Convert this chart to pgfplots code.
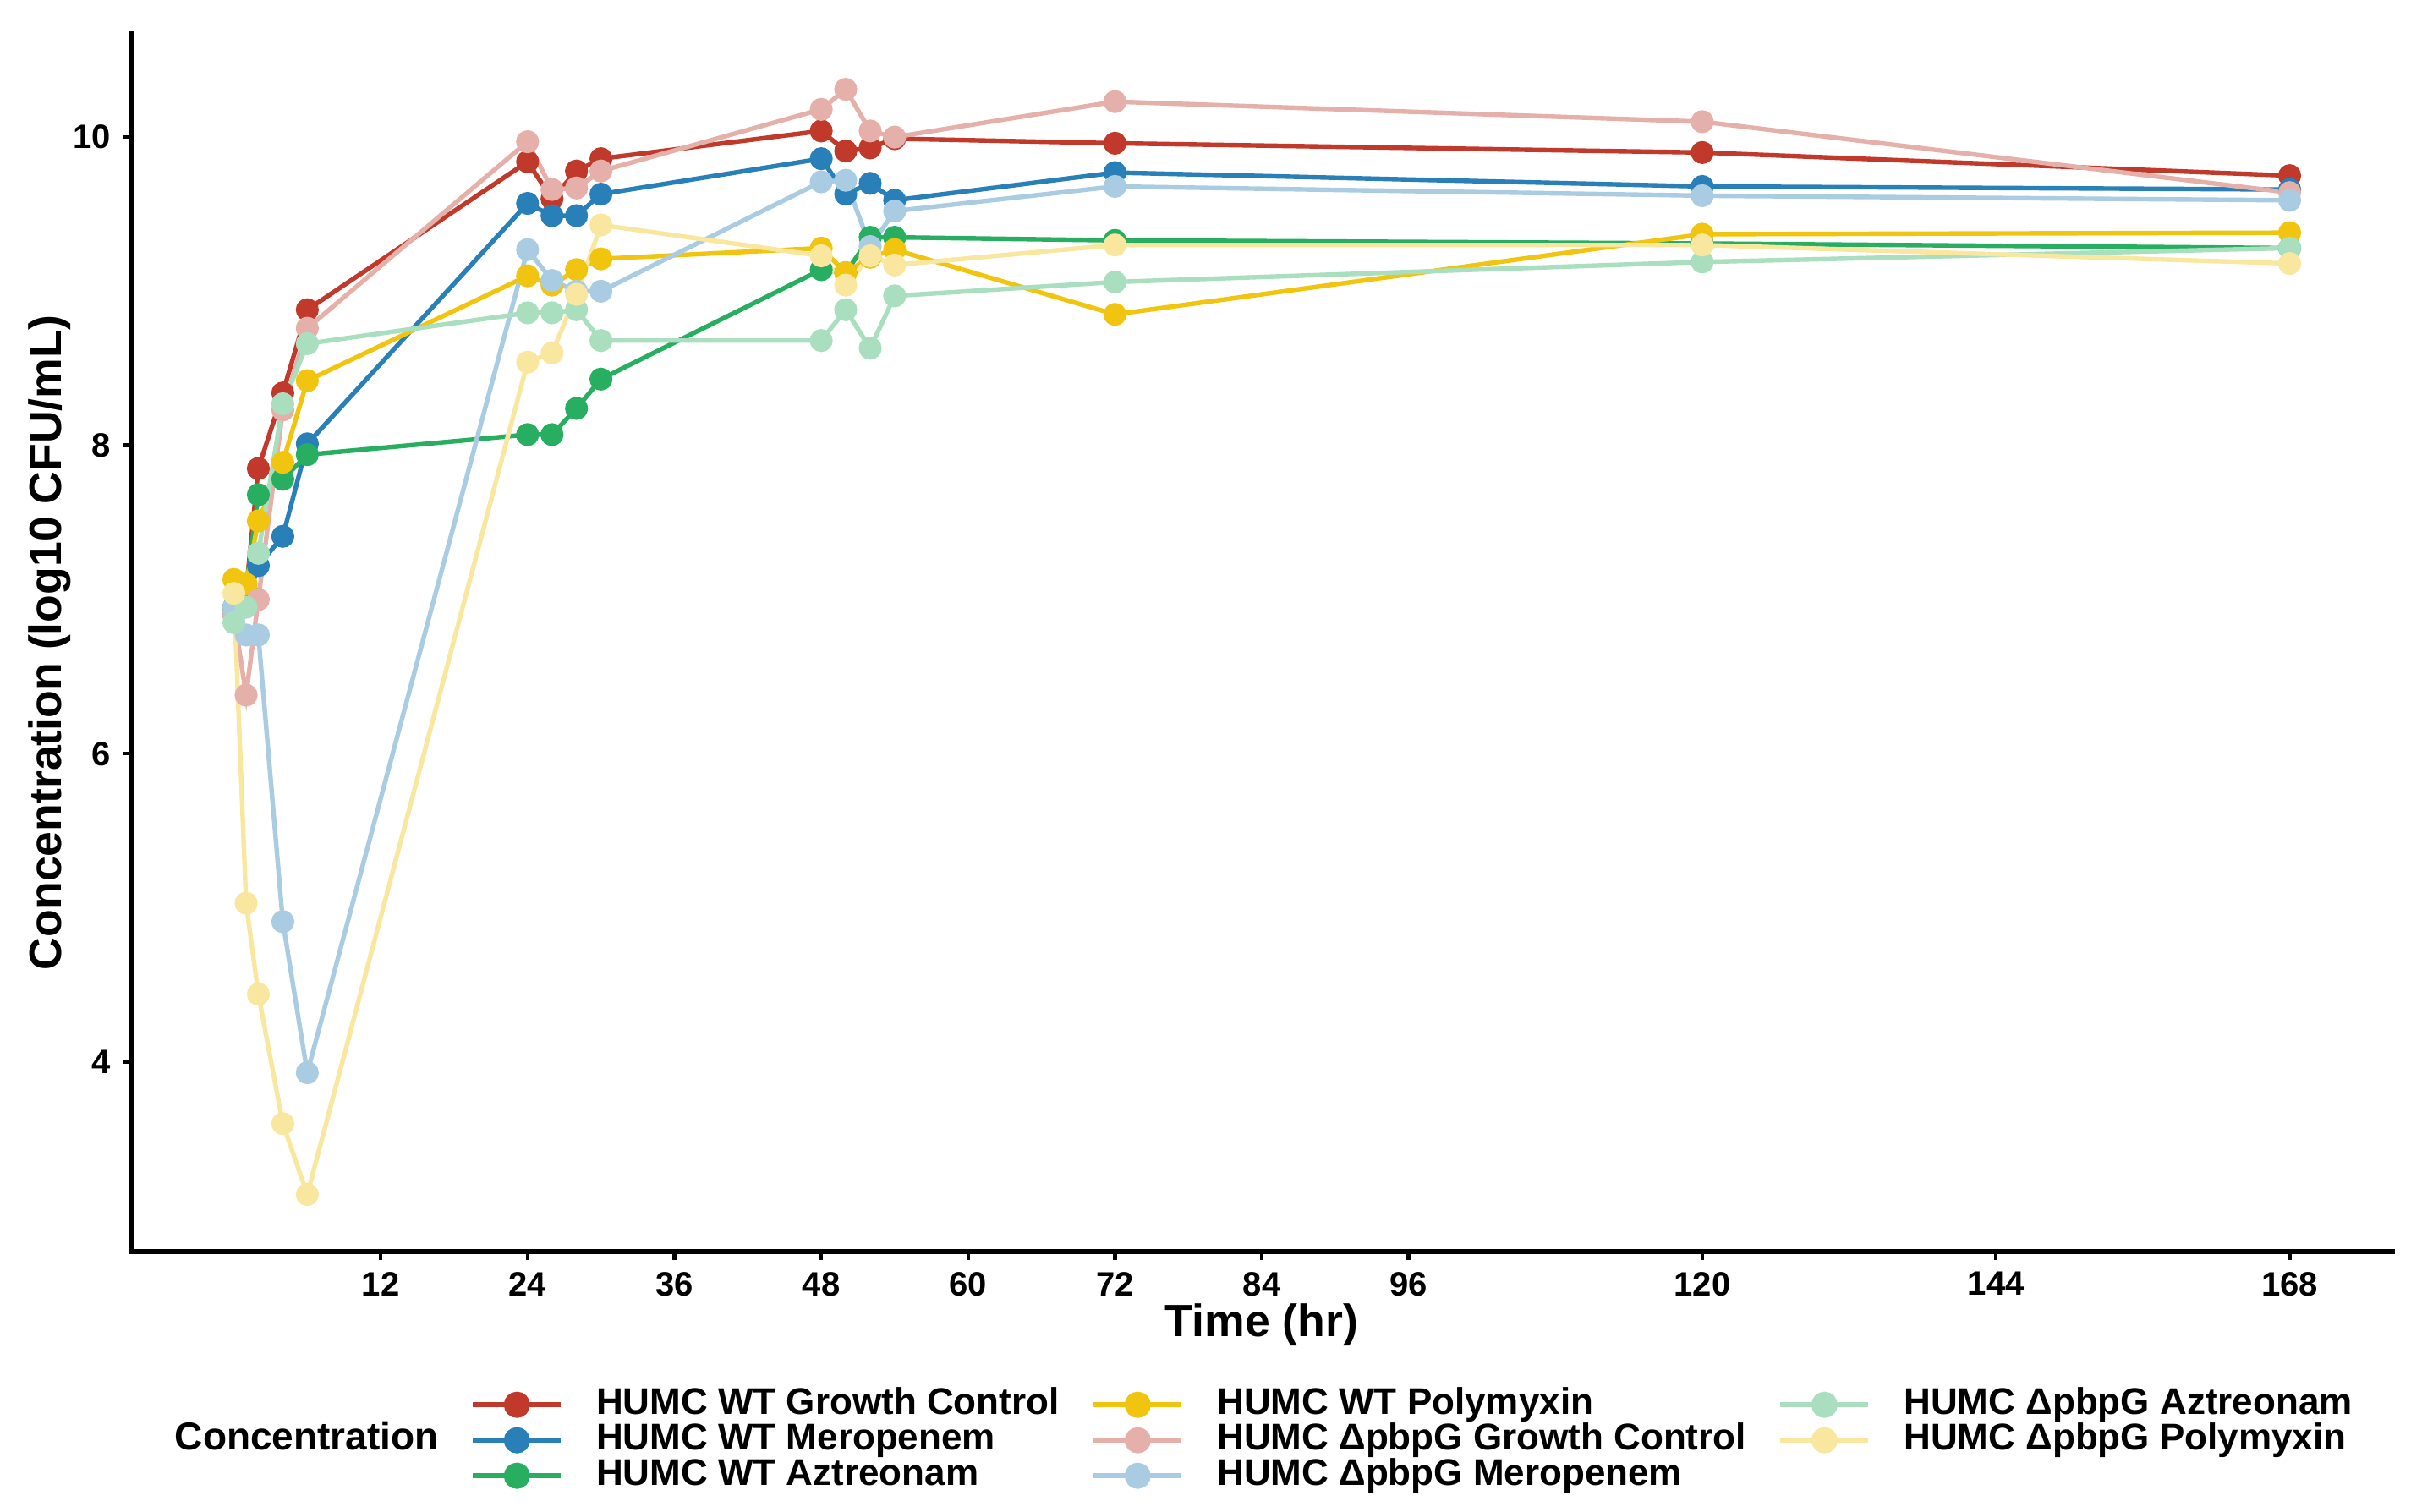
\documentclass[border=0pt]{standalone}
\usepackage{fontspec}
\setmainfont{Liberation Sans}
\usepackage{pgfplots}
\pgfplotsset{compat=1.18}
\usepackage{pgfplotstable}

\definecolor{cRed}{HTML}{C0392B}
\definecolor{cBlue}{HTML}{2980B9}
\definecolor{cGreen}{HTML}{27AE60}
\definecolor{cYellow}{HTML}{F1C40F}
\definecolor{cPink}{HTML}{E6B0AA}
\definecolor{cLBlue}{HTML}{A9CCE3}
\definecolor{cMint}{HTML}{A9DFBF}
\definecolor{cPYellow}{HTML}{F9E79F}

% columns: t, WT GC, WT Mero, WT Azt, WT Poly, dGC, dMero, dAzt, dPoly
\pgfplotstableread{
t   a     b     c     d     e     f     g     h
0   6.95  6.90  6.95  7.13  6.90  6.95  6.85  7.04
1   7.05  6.97  7.07  7.10  6.38  6.77  6.95  5.03
2   7.85  7.22  7.68  7.51  7.00  6.77  7.30  4.44
4   8.34  7.41  7.78  7.89  8.23  4.91  8.27  3.60
6   8.88  8.01  7.94  8.42  8.76  3.93  8.66  3.14
24  9.84  9.57  8.07  9.10  9.97  9.27  8.86  8.54
26  9.60  9.49  8.07  9.04  9.66  9.07  8.86  8.60
28  9.78  9.49  8.24  9.14  9.67  9.00  8.88  8.98
30  9.86  9.63  8.43  9.21  9.78  9.00  8.68  9.43
48  10.04 9.86  9.14  9.28  10.18 9.71  8.68  9.23
50  9.91  9.63  9.12  9.12  10.31 9.72  8.88  9.04
52  9.93  9.70  9.35  9.22  10.04 9.29  8.63  9.23
54  9.99  9.59  9.35  9.27  10.00 9.52  8.97  9.17
72  9.96  9.77  9.33  8.85  10.23 9.68  9.06  9.30
120 9.90  9.68  9.31  9.37  10.10 9.62  9.19  9.30
168 9.75  9.66  9.28  9.38  9.64  9.59  9.28  9.18
}\data

\begin{document}
\begin{tikzpicture}
\useasboundingbox (0,0) rectangle (712.75bp,447bp);
\begin{axis}[
  at={(38.75bp,77bp)}, anchor=south west,
  width=668.5bp, height=360bp, scale only axis,
  xmin=-8.4, xmax=176.4, ymin=2.77, ymax=10.67,
  axis x line=bottom, axis y line=left,
  axis line style={-, line width=1.3bp, black, line cap=rect},
  xtick={12,24,36,48,60,72,84,96,120,144,168},
  ytick={4,6,8,10},
  tick align=outside,
  major tick length=2.5bp,
  every tick/.style={black, line width=1.1bp},
  tick label style={font=\fontsize{10bp}{12bp}\selectfont\bfseries},
  /pgf/number format/assume math mode=true,
  xlabel={Time (hr)},
  ylabel={Concentration (log10 CFU/mL)},
  label style={font=\fontsize{13.4bp}{16bp}\selectfont\bfseries},
  xlabel style={at={(axis description cs:0.5,-0.0600)}, anchor=center},
  ylabel style={at={(axis description cs:-0.0360,0.5)}, anchor=center},
  legend columns=4,
  legend cell align=left,
  legend image code/.code={\draw[mark repeat=2,mark phase=2] plot coordinates {(0bp,0bp) (13bp,0bp) (26bp,0bp)};},
  legend style={at={(axis description cs:0.4935,-0.155)}, anchor=center, draw=none,
    inner sep=0pt, outer sep=0pt, row sep=0pt,
    font=\fontsize{11bp}{13bp}\selectfont\bfseries,
    nodes={inner sep=0pt, text height=8bp, text depth=2.5bp},
    /tikz/every odd column/.append style={column sep=9.8bp},
    /tikz/every even column/.append style={column sep=9.5bp}},
]
% lines
\addplot[cRed, line width=1.35bp, forget plot] table[x=t,y=a]{\data};
\addplot[cBlue, line width=1.35bp, forget plot] table[x=t,y=b]{\data};
\addplot[cGreen, line width=1.35bp, forget plot] table[x=t,y=c]{\data};
\addplot[cYellow, line width=1.35bp, forget plot] table[x=t,y=d]{\data};
\addplot[cPink, line width=1.35bp, forget plot] table[x=t,y=e]{\data};
\addplot[cLBlue, line width=1.35bp, forget plot] table[x=t,y=f]{\data};
\addplot[cMint, line width=1.35bp, forget plot] table[x=t,y=g]{\data};
\addplot[cPYellow, line width=1.35bp, forget plot] table[x=t,y=h]{\data};
% points
\addplot[only marks, mark=*, mark size=3.2bp, cRed, forget plot] table[x=t,y=a]{\data};
\addplot[only marks, mark=*, mark size=3.2bp, cBlue, forget plot] table[x=t,y=b]{\data};
\addplot[only marks, mark=*, mark size=3.2bp, cGreen, forget plot] table[x=t,y=c]{\data};
\addplot[only marks, mark=*, mark size=3.2bp, cYellow, forget plot] table[x=t,y=d]{\data};
\addplot[only marks, mark=*, mark size=3.2bp, cPink, forget plot] table[x=t,y=e]{\data};
\addplot[only marks, mark=*, mark size=3.2bp, cLBlue, forget plot] table[x=t,y=f]{\data};
\addplot[only marks, mark=*, mark size=3.2bp, cMint, forget plot] table[x=t,y=g]{\data};
\addplot[only marks, mark=*, mark size=3.2bp, cPYellow, forget plot] table[x=t,y=h]{\data};
% legend (row-wise, 4 columns)
\addlegendimage{empty legend}\addlegendentry{}
\addlegendimage{cRed, line width=1.35bp, mark=*, mark size=3.2bp}\addlegendentry{HUMC WT Growth Control}
\addlegendimage{cYellow, line width=1.35bp, mark=*, mark size=3.2bp}\addlegendentry{HUMC WT Polymyxin}
\addlegendimage{cMint, line width=1.35bp, mark=*, mark size=3.2bp}\addlegendentry{HUMC ΔpbpG Aztreonam}
\addlegendimage{empty legend}\addlegendentry{\fontsize{11.5bp}{13bp}\selectfont Concentration}
\addlegendimage{cBlue, line width=1.35bp, mark=*, mark size=3.2bp}\addlegendentry{HUMC WT Meropenem}
\addlegendimage{cPink, line width=1.35bp, mark=*, mark size=3.2bp}\addlegendentry{HUMC ΔpbpG Growth Control}
\addlegendimage{cPYellow, line width=1.35bp, mark=*, mark size=3.2bp}\addlegendentry{HUMC ΔpbpG Polymyxin}
\addlegendimage{empty legend}\addlegendentry{}
\addlegendimage{cGreen, line width=1.35bp, mark=*, mark size=3.2bp}\addlegendentry{HUMC WT Aztreonam}
\addlegendimage{cLBlue, line width=1.35bp, mark=*, mark size=3.2bp}\addlegendentry{HUMC ΔpbpG Meropenem}
\end{axis}
\end{tikzpicture}
\end{document}
